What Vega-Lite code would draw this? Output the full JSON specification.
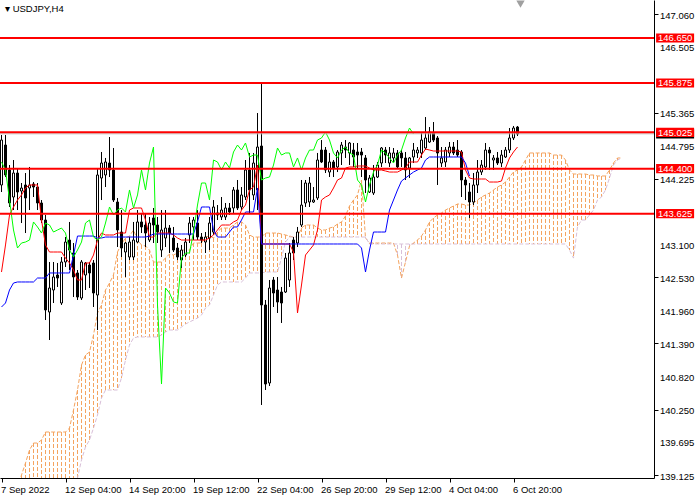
{
  "$schema": "https://vega.github.io/schema/vega-lite/v6.json",
  "width": 654,
  "height": 478,
  "autosize": {"type": "none"},
  "padding": {"left": 0, "top": 0, "right": 46, "bottom": 22},
  "background": "white",
  "view": {"stroke": null},
  "title": {"text": "▾  USDJPY,H4", "anchor": "start", "frame": "group", "offset": -13, "dx": 5, "font": "Liberation Sans", "fontSize": 9.5, "fontWeight": "normal", "color": "black"},
  "config": {
    "font": "Liberation Sans",
    "axis": {"labelFont": "Liberation Sans", "labelFontSize": 9.5, "labelColor": "black", "domainColor": "black", "tickColor": "black", "tickSize": 4, "grid": false, "labelPadding": 2, "labelOverlap": false, "labelBound": false, "labelFlush": false}
  },
  "datasets": {
    "candles": [
      {"i":0,"o":144.119,"h":144.98,"l":143.998,"c":144.893},
      {"i":1,"o":144.807,"h":144.98,"l":144.256,"c":144.291},
      {"i":2,"o":144.377,"h":144.463,"l":143.74,"c":143.809},
      {"i":3,"o":143.912,"h":144.549,"l":143.688,"c":144.325},
      {"i":4,"o":144.325,"h":144.411,"l":143.688,"c":143.998},
      {"i":5,"o":144.015,"h":144.153,"l":143.464,"c":144.067},
      {"i":6,"o":144.119,"h":144.325,"l":143.292,"c":143.895},
      {"i":7,"o":144.067,"h":144.429,"l":143.688,"c":144.119},
      {"i":8,"o":144.136,"h":144.17,"l":143.912,"c":144.084},
      {"i":9,"o":144.084,"h":144.153,"l":143.688,"c":143.809},
      {"i":10,"o":143.809,"h":143.86,"l":143.464,"c":143.516},
      {"i":11,"o":143.516,"h":143.602,"l":141.794,"c":141.967},
      {"i":12,"o":141.932,"h":142.793,"l":141.45,"c":142.345},
      {"i":13,"o":142.311,"h":142.793,"l":142.087,"c":142.535},
      {"i":14,"o":142.569,"h":142.776,"l":142.363,"c":142.517},
      {"i":15,"o":142.087,"h":142.879,"l":142.053,"c":142.793},
      {"i":16,"o":142.793,"h":143.223,"l":142.707,"c":143.137},
      {"i":17,"o":143.171,"h":143.482,"l":142.655,"c":142.999},
      {"i":18,"o":142.948,"h":143.12,"l":142.19,"c":142.535},
      {"i":19,"o":142.604,"h":142.655,"l":142.139,"c":142.19},
      {"i":20,"o":142.173,"h":142.827,"l":142.139,"c":142.793},
      {"i":21,"o":142.569,"h":142.793,"l":142.311,"c":142.776},
      {"i":22,"o":142.741,"h":142.793,"l":142.345,"c":142.604},
      {"i":23,"o":142.776,"h":142.827,"l":142.018,"c":142.259},
      {"i":24,"o":142.225,"h":144.411,"l":141.622,"c":144.291},
      {"i":25,"o":144.239,"h":144.687,"l":143.86,"c":144.497},
      {"i":26,"o":144.291,"h":144.584,"l":144.084,"c":144.515},
      {"i":27,"o":144.497,"h":144.945,"l":144.256,"c":144.377},
      {"i":28,"o":144.377,"h":144.756,"l":143.826,"c":143.86},
      {"i":29,"o":143.826,"h":143.895,"l":143.051,"c":143.344},
      {"i":30,"o":143.309,"h":143.688,"l":142.879,"c":143.034},
      {"i":31,"o":142.965,"h":143.137,"l":142.535,"c":143.12},
      {"i":32,"o":142.879,"h":143.223,"l":142.827,"c":143.137},
      {"i":33,"o":142.879,"h":143.482,"l":142.827,"c":143.171},
      {"i":34,"o":143.137,"h":143.688,"l":143.12,"c":143.482},
      {"i":35,"o":143.482,"h":143.637,"l":143.292,"c":143.396},
      {"i":36,"o":143.43,"h":143.637,"l":143.051,"c":143.292},
      {"i":37,"o":143.171,"h":143.568,"l":143.137,"c":143.464},
      {"i":38,"o":143.551,"h":143.723,"l":143.12,"c":143.43},
      {"i":39,"o":143.43,"h":143.568,"l":143.12,"c":143.309},
      {"i":40,"o":142.999,"h":143.688,"l":142.879,"c":143.344},
      {"i":41,"o":143.206,"h":143.688,"l":143.051,"c":143.378},
      {"i":42,"o":143.378,"h":143.43,"l":142.948,"c":143.292},
      {"i":43,"o":143.206,"h":143.396,"l":142.965,"c":142.999},
      {"i":44,"o":143.034,"h":143.12,"l":142.827,"c":142.879},
      {"i":45,"o":142.827,"h":143.086,"l":142.69,"c":142.999},
      {"i":46,"o":142.913,"h":143.206,"l":142.879,"c":143.137},
      {"i":47,"o":143.258,"h":143.568,"l":143.12,"c":143.464},
      {"i":48,"o":143.396,"h":143.568,"l":143.171,"c":143.516},
      {"i":49,"o":143.464,"h":143.688,"l":143.171,"c":143.223},
      {"i":50,"o":143.223,"h":143.292,"l":143.12,"c":143.171},
      {"i":51,"o":143.137,"h":143.309,"l":142.948,"c":143.223},
      {"i":52,"o":143.206,"h":143.568,"l":142.999,"c":143.464},
      {"i":53,"o":143.309,"h":143.86,"l":143.258,"c":143.74},
      {"i":54,"o":143.637,"h":143.774,"l":143.516,"c":143.602},
      {"i":55,"o":143.568,"h":143.912,"l":143.516,"c":143.688},
      {"i":56,"o":143.568,"h":143.809,"l":143.516,"c":143.723},
      {"i":57,"o":143.723,"h":143.809,"l":143.602,"c":143.654},
      {"i":58,"o":143.723,"h":144.084,"l":143.637,"c":144.033},
      {"i":59,"o":144.033,"h":144.205,"l":143.688,"c":143.723},
      {"i":60,"o":143.74,"h":144.084,"l":143.688,"c":143.947},
      {"i":61,"o":143.912,"h":144.549,"l":143.86,"c":144.377},
      {"i":62,"o":144.377,"h":144.67,"l":143.637,"c":144.033},
      {"i":63,"o":143.947,"h":144.67,"l":143.86,"c":144.497},
      {"i":64,"o":144.033,"h":145.358,"l":143.688,"c":144.773},
      {"i":65,"o":144.79,"h":145.875,"l":140.331,"c":142.053},
      {"i":66,"o":142.053,"h":142.139,"l":140.589,"c":140.692},
      {"i":67,"o":140.71,"h":142.483,"l":140.658,"c":142.345},
      {"i":68,"o":142.483,"h":142.535,"l":142.018,"c":142.259},
      {"i":69,"o":142.311,"h":142.535,"l":141.915,"c":142.104},
      {"i":70,"o":142.276,"h":142.363,"l":141.743,"c":142.087},
      {"i":71,"o":142.276,"h":142.948,"l":142.259,"c":142.861},
      {"i":72,"o":142.483,"h":143.12,"l":142.363,"c":142.948},
      {"i":73,"o":143.171,"h":143.223,"l":142.827,"c":142.948},
      {"i":74,"o":143.12,"h":143.396,"l":143.051,"c":143.309},
      {"i":75,"o":143.43,"h":144.205,"l":143.396,"c":143.774},
      {"i":76,"o":143.809,"h":144.205,"l":143.74,"c":144.153},
      {"i":77,"o":143.826,"h":144.256,"l":143.74,"c":144.153},
      {"i":78,"o":143.826,"h":144.084,"l":143.809,"c":143.86},
      {"i":79,"o":143.895,"h":144.67,"l":143.86,"c":144.549},
      {"i":80,"o":144.721,"h":144.893,"l":144.497,"c":144.515},
      {"i":81,"o":144.721,"h":144.773,"l":144.325,"c":144.377},
      {"i":82,"o":144.342,"h":144.67,"l":144.256,"c":144.515},
      {"i":83,"o":144.515,"h":144.549,"l":144.256,"c":144.411},
      {"i":84,"o":144.429,"h":144.721,"l":144.342,"c":144.687},
      {"i":85,"o":144.67,"h":144.859,"l":144.463,"c":144.807},
      {"i":86,"o":144.773,"h":144.893,"l":144.584,"c":144.721},
      {"i":87,"o":144.67,"h":144.859,"l":144.463,"c":144.842},
      {"i":88,"o":144.721,"h":144.842,"l":144.429,"c":144.601},
      {"i":89,"o":144.687,"h":144.842,"l":144.411,"c":144.635},
      {"i":90,"o":144.687,"h":144.756,"l":144.256,"c":144.635},
      {"i":91,"o":144.584,"h":144.635,"l":143.981,"c":144.205},
      {"i":92,"o":143.998,"h":144.291,"l":143.981,"c":144.239},
      {"i":93,"o":143.981,"h":144.463,"l":143.947,"c":144.256},
      {"i":94,"o":144.256,"h":144.515,"l":144.239,"c":144.463},
      {"i":95,"o":144.497,"h":144.773,"l":144.429,"c":144.756},
      {"i":96,"o":144.721,"h":144.773,"l":144.497,"c":144.635},
      {"i":97,"o":144.497,"h":144.773,"l":144.429,"c":144.67},
      {"i":98,"o":144.584,"h":144.756,"l":144.515,"c":144.67},
      {"i":99,"o":144.67,"h":144.721,"l":144.411,"c":144.429},
      {"i":100,"o":144.67,"h":144.721,"l":144.429,"c":144.584},
      {"i":101,"o":144.584,"h":144.687,"l":144.205,"c":144.377},
      {"i":102,"o":144.411,"h":144.601,"l":144.239,"c":144.584},
      {"i":103,"o":144.601,"h":144.842,"l":144.497,"c":144.721},
      {"i":104,"o":144.67,"h":144.773,"l":144.584,"c":144.721},
      {"i":105,"o":144.67,"h":145.014,"l":144.584,"c":144.893},
      {"i":106,"o":144.756,"h":145.289,"l":144.721,"c":144.928},
      {"i":107,"o":144.859,"h":145.117,"l":144.842,"c":145.031},
      {"i":108,"o":145.014,"h":145.203,"l":144.859,"c":144.893},
      {"i":109,"o":144.928,"h":144.962,"l":144.119,"c":144.67},
      {"i":110,"o":144.497,"h":144.773,"l":144.429,"c":144.584},
      {"i":111,"o":144.515,"h":144.773,"l":144.429,"c":144.721},
      {"i":112,"o":144.67,"h":144.859,"l":144.601,"c":144.773},
      {"i":113,"o":144.773,"h":144.859,"l":144.635,"c":144.67},
      {"i":114,"o":144.721,"h":144.893,"l":144.601,"c":144.635},
      {"i":115,"o":144.687,"h":144.721,"l":143.912,"c":144.205},
      {"i":116,"o":144.205,"h":144.256,"l":143.86,"c":144.119},
      {"i":117,"o":143.998,"h":144.153,"l":143.551,"c":143.826},
      {"i":118,"o":143.826,"h":144.325,"l":143.774,"c":144.119},
      {"i":119,"o":144.119,"h":144.549,"l":143.981,"c":144.342},
      {"i":120,"o":144.342,"h":144.549,"l":144.291,"c":144.463},
      {"i":121,"o":144.429,"h":144.842,"l":144.377,"c":144.721},
      {"i":122,"o":144.721,"h":144.773,"l":144.377,"c":144.67},
      {"i":123,"o":144.549,"h":144.635,"l":144.377,"c":144.584},
      {"i":124,"o":144.584,"h":144.687,"l":144.463,"c":144.497},
      {"i":125,"o":144.497,"h":144.721,"l":144.429,"c":144.635},
      {"i":126,"o":144.601,"h":144.773,"l":144.584,"c":144.721},
      {"i":127,"o":144.721,"h":145.1,"l":144.67,"c":144.928},
      {"i":128,"o":144.928,"h":145.135,"l":144.893,"c":145.1},
      {"i":129,"o":145.117,"h":145.135,"l":144.962,"c":144.997}
    ],
    "ichi": [
      {"i":0,"t":142.621,"k":142.018,"ck":144.515,"a":138.007,"b":138.5},
      {"i":1,"t":143.086,"k":142.087,"ck":144.377,"a":138.179,"b":138.5},
      {"i":2,"t":143.602,"k":142.311,"ck":143.86,"a":138.351,"b":138.5},
      {"i":3,"t":143.74,"k":142.431,"ck":143.344,"a":138.609,"b":138.5},
      {"i":4,"t":143.86,"k":142.449,"ck":143.034,"a":138.867,"b":138.5},
      {"i":5,"t":143.947,"k":142.449,"ck":143.12,"a":139.125,"b":138.5},
      {"i":6,"t":144.067,"k":142.449,"ck":143.137,"a":139.332,"b":138.5},
      {"i":7,"t":144.119,"k":142.449,"ck":143.171,"a":139.556,"b":138.5},
      {"i":8,"t":144.119,"k":142.449,"ck":143.482,"a":139.676,"b":138.5},
      {"i":9,"t":144.119,"k":142.517,"ck":143.396,"a":139.676,"b":138.5},
      {"i":10,"t":143.516,"k":142.517,"ck":143.292,"a":139.728,"b":138.5},
      {"i":11,"t":143.086,"k":142.517,"ck":143.464,"a":139.866,"b":138.5},
      {"i":12,"t":142.965,"k":142.604,"ck":143.43,"a":139.866,"b":138.5},
      {"i":13,"t":142.965,"k":142.604,"ck":143.309,"a":139.866,"b":138.5},
      {"i":14,"t":142.965,"k":142.604,"ck":143.344,"a":139.866,"b":138.5},
      {"i":15,"t":142.965,"k":142.604,"ck":143.378,"a":139.866,"b":138.5},
      {"i":16,"t":142.861,"k":142.604,"ck":143.292,"a":139.866,"b":138.6},
      {"i":17,"t":142.776,"k":142.604,"ck":142.999,"a":139.934,"b":138.75},
      {"i":18,"t":142.655,"k":142.913,"ck":142.879,"a":140.245,"b":138.9},
      {"i":19,"t":142.483,"k":143.24,"ck":142.999,"a":140.589,"b":139.074},
      {"i":20,"t":142.483,"k":143.24,"ck":143.137,"a":141.019,"b":139.384},
      {"i":21,"t":142.776,"k":143.24,"ck":143.464,"a":141.192,"b":139.608},
      {"i":22,"t":142.776,"k":143.24,"ck":143.516,"a":141.243,"b":139.728},
      {"i":23,"t":142.913,"k":143.24,"ck":143.223,"a":141.536,"b":139.934},
      {"i":24,"t":143.171,"k":143.206,"ck":143.171,"a":141.915,"b":140.158},
      {"i":25,"t":143.292,"k":143.206,"ck":143.223,"a":142.053,"b":140.451},
      {"i":26,"t":143.258,"k":143.223,"ck":143.464,"a":142.311,"b":140.589},
      {"i":27,"t":143.258,"k":143.223,"ck":143.74,"a":142.431,"b":140.589},
      {"i":28,"t":143.258,"k":143.223,"ck":143.602,"a":142.569,"b":140.589},
      {"i":29,"t":143.292,"k":143.223,"ck":143.688,"a":142.965,"b":140.589},
      {"i":30,"t":143.292,"k":143.223,"ck":143.723,"a":143.103,"b":140.796},
      {"i":31,"t":143.292,"k":143.223,"ck":143.654,"a":143.206,"b":141.106},
      {"i":32,"t":143.688,"k":143.223,"ck":144.033,"a":143.24,"b":141.364},
      {"i":33,"t":143.723,"k":143.223,"ck":143.723,"a":143.344,"b":141.484},
      {"i":34,"t":143.723,"k":143.223,"ck":143.947,"a":143.171,"b":141.502},
      {"i":35,"t":143.723,"k":143.223,"ck":144.377,"a":143.086,"b":141.502},
      {"i":36,"t":143.516,"k":143.223,"ck":144.033,"a":143.068,"b":141.502},
      {"i":37,"t":143.223,"k":143.24,"ck":144.497,"a":142.999,"b":141.502},
      {"i":38,"t":143.223,"k":143.275,"ck":144.773,"a":142.793,"b":141.502},
      {"i":39,"t":143.292,"k":143.275,"ck":142.053,"a":142.793,"b":141.502},
      {"i":40,"t":143.292,"k":143.275,"ck":140.692,"a":142.793,"b":141.536},
      {"i":41,"t":143.292,"k":143.275,"ck":142.345,"a":142.861,"b":141.588},
      {"i":42,"t":143.292,"k":143.275,"ck":142.259,"a":142.93,"b":141.622},
      {"i":43,"t":143.258,"k":143.275,"ck":142.104,"a":142.913,"b":141.622},
      {"i":44,"t":143.206,"k":143.275,"ck":142.087,"a":142.948,"b":141.622},
      {"i":45,"t":143.171,"k":143.275,"ck":142.861,"a":142.999,"b":141.674},
      {"i":46,"t":143.171,"k":143.275,"ck":142.948,"a":142.999,"b":141.725},
      {"i":47,"t":143.171,"k":143.275,"ck":142.948,"a":142.999,"b":141.76},
      {"i":48,"t":143.171,"k":143.275,"ck":143.309,"a":143.12,"b":141.794},
      {"i":49,"t":143.171,"k":143.482,"ck":143.774,"a":143.12,"b":141.829},
      {"i":50,"t":143.171,"k":143.74,"ck":144.153,"a":143.12,"b":141.881},
      {"i":51,"t":143.171,"k":143.74,"ck":144.153,"a":143.223,"b":142.001},
      {"i":52,"t":143.206,"k":143.74,"ck":143.86,"a":143.24,"b":142.053},
      {"i":53,"t":143.258,"k":143.344,"ck":144.549,"a":143.206,"b":142.225},
      {"i":54,"t":143.344,"k":143.223,"ck":144.515,"a":143.309,"b":142.397},
      {"i":55,"t":143.43,"k":143.223,"ck":144.377,"a":143.378,"b":142.449},
      {"i":56,"t":143.43,"k":143.223,"ck":144.515,"a":143.378,"b":142.449},
      {"i":57,"t":143.43,"k":143.309,"ck":144.411,"a":143.378,"b":142.449},
      {"i":58,"t":143.482,"k":143.396,"ck":144.687,"a":143.43,"b":142.449},
      {"i":59,"t":143.516,"k":143.396,"ck":144.807,"a":143.482,"b":142.449},
      {"i":60,"t":143.688,"k":143.516,"ck":144.721,"a":143.482,"b":142.449},
      {"i":61,"t":143.774,"k":143.654,"ck":144.842,"a":143.43,"b":142.517},
      {"i":62,"t":144.033,"k":143.654,"ck":144.601,"a":143.258,"b":142.604},
      {"i":63,"t":144.084,"k":143.654,"ck":144.635,"a":143.223,"b":142.604},
      {"i":64,"t":144.463,"k":144.067,"ck":144.635,"a":143.223,"b":142.604},
      {"i":65,"t":143.103,"k":143.103,"ck":144.205,"a":143.223,"b":142.604},
      {"i":66,"t":143.103,"k":143.103,"ck":144.239,"a":143.292,"b":142.621},
      {"i":67,"t":143.103,"k":143.103,"ck":144.256,"a":143.292,"b":142.621},
      {"i":68,"t":143.103,"k":143.103,"ck":144.463,"a":143.292,"b":142.621},
      {"i":69,"t":143.103,"k":143.103,"ck":144.756,"a":143.292,"b":142.621},
      {"i":70,"t":143.103,"k":143.103,"ck":144.635,"a":143.275,"b":142.861},
      {"i":71,"t":143.103,"k":143.103,"ck":144.67,"a":143.258,"b":143.137},
      {"i":72,"t":143.103,"k":143.103,"ck":144.67,"a":143.24,"b":143.223},
      {"i":73,"t":142.965,"k":143.103,"ck":144.429,"a":143.223,"b":143.223},
      {"i":74,"t":141.915,"k":143.103,"ck":144.584,"a":143.223,"b":143.223},
      {"i":75,"t":142.397,"k":143.103,"ck":144.377,"a":143.378,"b":143.223},
      {"i":76,"t":142.913,"k":143.103,"ck":144.584,"a":143.43,"b":143.223},
      {"i":77,"t":142.999,"k":143.103,"ck":144.721,"a":143.43,"b":143.223},
      {"i":78,"t":143.086,"k":143.103,"ck":144.721,"a":143.43,"b":143.223},
      {"i":79,"t":143.344,"k":143.103,"ck":144.893,"a":143.378,"b":143.223},
      {"i":80,"t":143.86,"k":143.103,"ck":144.928,"a":143.344,"b":143.223},
      {"i":81,"t":143.912,"k":143.103,"ck":145.031,"a":143.344,"b":143.223},
      {"i":82,"t":143.947,"k":143.103,"ck":144.893,"a":143.378,"b":143.223},
      {"i":83,"t":144.067,"k":143.103,"ck":144.67,"a":143.396,"b":143.223},
      {"i":84,"t":144.205,"k":143.103,"ck":144.584,"a":143.447,"b":143.223},
      {"i":85,"t":144.239,"k":143.103,"ck":144.721,"a":143.482,"b":143.223},
      {"i":86,"t":144.411,"k":143.103,"ck":144.773,"a":143.585,"b":143.223},
      {"i":87,"t":144.429,"k":143.103,"ck":144.67,"a":143.757,"b":143.223},
      {"i":88,"t":144.429,"k":143.103,"ck":144.635,"a":143.86,"b":143.223},
      {"i":89,"t":144.446,"k":143.103,"ck":144.205,"a":143.947,"b":143.223},
      {"i":90,"t":144.446,"k":143.034,"ck":144.119,"a":144.205,"b":143.223},
      {"i":91,"t":144.446,"k":142.621,"ck":143.826,"a":143.206,"b":143.223},
      {"i":92,"t":144.411,"k":142.999,"ck":144.119,"a":143.12,"b":143.103},
      {"i":93,"t":144.377,"k":143.309,"ck":144.342,"a":143.12,"b":143.103},
      {"i":94,"t":144.377,"k":143.309,"ck":144.463,"a":143.12,"b":143.103},
      {"i":95,"t":144.377,"k":143.309,"ck":144.721,"a":143.12,"b":143.103},
      {"i":96,"t":144.36,"k":143.309,"ck":144.67,"a":143.12,"b":143.103},
      {"i":97,"t":144.342,"k":143.688,"ck":144.584,"a":143.12,"b":143.103},
      {"i":98,"t":144.342,"k":143.86,"ck":144.497,"a":143.12,"b":143.103},
      {"i":99,"t":144.342,"k":144.033,"ck":144.635,"a":142.913,"b":143.103},
      {"i":100,"t":144.377,"k":144.187,"ck":144.721,"a":142.517,"b":143.103},
      {"i":101,"t":144.411,"k":144.239,"ck":144.928,"a":142.793,"b":143.103},
      {"i":102,"t":144.515,"k":144.291,"ck":145.1,"a":143.068,"b":143.103},
      {"i":103,"t":144.515,"k":144.342,"ck":144.997,"a":143.12,"b":143.103},
      {"i":104,"t":144.515,"k":144.377,"a":143.171,"b":143.103},
      {"i":105,"t":144.635,"k":144.411,"a":143.24,"b":143.103},
      {"i":106,"t":144.738,"k":144.549,"a":143.344,"b":143.103},
      {"i":107,"t":144.721,"k":144.601,"a":143.482,"b":143.103},
      {"i":108,"t":144.704,"k":144.601,"a":143.551,"b":143.103},
      {"i":109,"t":144.704,"k":144.601,"a":143.602,"b":143.103},
      {"i":110,"t":144.704,"k":144.601,"a":143.637,"b":143.103},
      {"i":111,"t":144.704,"k":144.601,"a":143.688,"b":143.103},
      {"i":112,"t":144.704,"k":144.601,"a":143.723,"b":143.103},
      {"i":113,"t":144.704,"k":144.601,"a":143.757,"b":143.103},
      {"i":114,"t":144.704,"k":144.601,"a":143.791,"b":143.103},
      {"i":115,"t":144.687,"k":144.601,"a":143.791,"b":143.103},
      {"i":116,"t":144.377,"k":144.497,"a":143.774,"b":143.103},
      {"i":117,"t":144.239,"k":144.274,"a":143.774,"b":143.103},
      {"i":118,"t":144.222,"a":143.809,"b":143.103},
      {"i":119,"t":144.222,"a":143.86,"b":143.103},
      {"i":120,"t":144.222,"a":143.912,"b":143.103},
      {"i":121,"t":144.222,"a":143.947,"b":143.103},
      {"i":122,"t":144.17,"a":143.981,"b":143.103},
      {"i":123,"t":144.17,"a":144.033,"b":143.103},
      {"i":124,"t":144.17,"a":144.084,"b":143.103},
      {"i":125,"t":144.187,"a":144.119,"b":143.103},
      {"i":126,"t":144.411,"a":144.17,"b":143.103},
      {"i":127,"t":144.584,"a":144.256,"b":143.103},
      {"i":128,"t":144.687,"a":144.342,"b":143.103},
      {"i":129,"t":144.773,"a":144.377,"b":143.103},
      {"i":130,"a":144.429,"b":143.103},
      {"i":131,"a":144.549,"b":143.103},
      {"i":132,"a":144.67,"b":143.103},
      {"i":133,"a":144.67,"b":143.103},
      {"i":134,"a":144.67,"b":143.103},
      {"i":135,"a":144.67,"b":143.103},
      {"i":136,"a":144.67,"b":143.103},
      {"i":137,"a":144.67,"b":143.103},
      {"i":138,"a":144.635,"b":143.103},
      {"i":139,"a":144.635,"b":143.103},
      {"i":140,"a":144.635,"b":143.103},
      {"i":141,"a":144.549,"b":143.103},
      {"i":142,"a":144.377,"b":142.999},
      {"i":143,"a":144.308,"b":142.861},
      {"i":144,"a":144.308,"b":143.396},
      {"i":145,"a":144.308,"b":143.516},
      {"i":146,"a":144.308,"b":143.516},
      {"i":147,"a":144.291,"b":143.602},
      {"i":148,"a":144.291,"b":143.688},
      {"i":149,"a":144.274,"b":143.86},
      {"i":150,"a":144.274,"b":143.912},
      {"i":151,"a":144.274,"b":144.033},
      {"i":152,"a":144.377,"b":144.239},
      {"i":153,"a":144.497,"b":144.463},
      {"i":154,"a":144.584,"b":144.549},
      {"i":155,"a":144.584,"b":144.584}
    ],
    "levels": [{"lv":146.65},{"lv":145.875},{"lv":145.025},{"lv":144.4},{"lv":143.625}],
    "bid": [{"bid":145.0}],
    "yticks": [{"p":147.06},{"p":146.505},{"p":145.365},{"p":144.795},{"p":144.225},{"p":143.1},{"p":142.53},{"p":141.96},{"p":141.39},{"p":140.82},{"p":140.25},{"p":139.695},{"p":139.125}]
  },
  "layer": [
    {
      "data": {"name": "ichi"},
      "transform": [{"filter": "datum.a >= datum.b"}],
      "mark": {"type": "rule", "color": "#F4A460", "strokeDash": [4, 2], "strokeWidth": 1, "clip": true},
      "encoding": {
        "x": {"field": "i", "type": "quantitative", "title": null,
          "scale": {"domain": [-0.375, 163.125], "nice": false, "zero": false, "padding": 0},
          "axis": {"values": [0, 16, 32, 48, 64, 80, 96, 112, 128], "labelAlign": "left", "labelOffset": -1,
            "labelExpr": "['7 Sep 2022','12 Sep 04:00','14 Sep 20:00','19 Sep 12:00','22 Sep 04:00','26 Sep 20:00','29 Sep 12:00','4 Oct 04:00','6 Oct 20:00'][round(datum.value/16)]"}},
        "y": {"field": "a", "type": "quantitative", "title": null,
          "scale": {"domain": [139.074, 147.304], "nice": false, "zero": false},
          "axis": {"orient": "right", "labels": false,
            "values": [147.06, 146.505, 145.365, 144.795, 144.225, 143.1, 142.53, 141.96, 141.39, 140.82, 140.25, 139.695, 139.125]}},
        "y2": {"field": "b"}
      }
    },
    {
      "data": {"name": "ichi"},
      "transform": [{"filter": "datum.a < datum.b"}],
      "mark": {"type": "rule", "color": "#D8BFD8", "strokeDash": [4, 2], "strokeWidth": 1, "clip": true},
      "encoding": {"x": {"field": "i", "type": "quantitative", "title": null}, "y": {"field": "a", "type": "quantitative", "title": null}, "y2": {"field": "b"}}
    },
    {
      "data": {"name": "ichi"},
      "mark": {"type": "line", "color": "#F4A460", "strokeWidth": 1, "strokeDash": [4, 2], "clip": true},
      "encoding": {"x": {"field": "i", "type": "quantitative", "title": null}, "y": {"field": "a", "type": "quantitative", "title": null}}
    },
    {
      "data": {"name": "ichi"},
      "mark": {"type": "line", "color": "#D8BFD8", "strokeWidth": 1, "strokeDash": [4, 2], "clip": true},
      "encoding": {"x": {"field": "i", "type": "quantitative", "title": null}, "y": {"field": "b", "type": "quantitative", "title": null}}
    },
    {
      "data": {"name": "candles"},
      "mark": {"type": "rule", "color": "black", "strokeWidth": 1, "clip": true},
      "encoding": {"x": {"field": "i", "type": "quantitative", "title": null}, "y": {"field": "l", "type": "quantitative", "title": null}, "y2": {"field": "h"}}
    },
    {
      "data": {"name": "candles"},
      "mark": {"type": "bar", "orient": "vertical", "size": 2, "stroke": "black", "strokeWidth": 1, "clip": true},
      "encoding": {
        "x": {"field": "i", "type": "quantitative", "title": null},
        "y": {"field": "o", "type": "quantitative", "title": null},
        "y2": {"field": "c"},
        "fill": {"condition": {"test": "datum.c >= datum.o", "value": "white"}, "value": "black"}
      }
    },
    {
      "data": {"name": "ichi"},
      "mark": {"type": "line", "color": "#FF0000", "strokeWidth": 1, "clip": true},
      "encoding": {"x": {"field": "i", "type": "quantitative", "title": null}, "y": {"field": "t", "type": "quantitative", "title": null}}
    },
    {
      "data": {"name": "ichi"},
      "mark": {"type": "line", "color": "#0000FF", "strokeWidth": 1, "clip": true},
      "encoding": {"x": {"field": "i", "type": "quantitative", "title": null}, "y": {"field": "k", "type": "quantitative", "title": null}}
    },
    {
      "data": {"name": "ichi"},
      "mark": {"type": "line", "color": "#00FF00", "strokeWidth": 1, "clip": true},
      "encoding": {"x": {"field": "i", "type": "quantitative", "title": null}, "y": {"field": "ck", "type": "quantitative", "title": null}}
    },
    {
      "data": {"name": "bid"},
      "mark": {"type": "rule", "color": "#C0C0C0", "strokeWidth": 1},
      "encoding": {"y": {"field": "bid", "type": "quantitative", "title": null}}
    },
    {
      "data": {"name": "levels"},
      "mark": {"type": "rule", "color": "#FF0000", "strokeWidth": 2},
      "encoding": {"y": {"field": "lv", "type": "quantitative", "title": null}}
    },
    {
      "data": {"name": "yticks"},
      "mark": {"type": "text", "color": "black", "font": "Liberation Sans", "fontSize": 9.5, "align": "left", "baseline": "middle", "dy": 1.5},
      "encoding": {"x": {"datum": 164.625, "type": "quantitative"}, "y": {"field": "p", "type": "quantitative", "title": null}, "text": {"field": "p", "type": "quantitative", "format": ".3f"}}
    },
    {
      "data": {"name": "bid"},
      "mark": {"type": "point", "shape": "M-1,-0.24H1V0.24H-1Z", "size": 1444, "filled": true, "color": "black", "opacity": 1, "strokeWidth": 0},
      "encoding": {"x": {"datum": 168.4, "type": "quantitative"}, "y": {"field": "bid", "type": "quantitative", "title": null}}
    },
    {
      "data": {"name": "levels"},
      "mark": {"type": "point", "shape": "M-1,-0.24H1V0.24H-1Z", "size": 1444, "filled": true, "color": "#FF0000", "opacity": 1, "strokeWidth": 0},
      "encoding": {"x": {"datum": 168.4, "type": "quantitative"}, "y": {"field": "lv", "type": "quantitative", "title": null}}
    },
    {
      "data": {"name": "levels"},
      "mark": {"type": "text", "color": "white", "font": "Liberation Sans", "fontSize": 9.5, "align": "center", "baseline": "middle", "dy": 0.5},
      "encoding": {"x": {"datum": 168.4, "type": "quantitative"}, "y": {"field": "lv", "type": "quantitative", "title": null}, "text": {"field": "lv", "type": "quantitative", "format": ".3f"}}
    },
    {
      "data": {"values": [{"shift": 129.75, "top": 147.235}]},
      "mark": {"type": "point", "shape": "triangle-down", "size": 70, "filled": true, "color": "#A0A0A0", "opacity": 1},
      "encoding": {"x": {"field": "shift", "type": "quantitative", "title": null}, "y": {"field": "top", "type": "quantitative", "title": null}}
    }
  ]
}
